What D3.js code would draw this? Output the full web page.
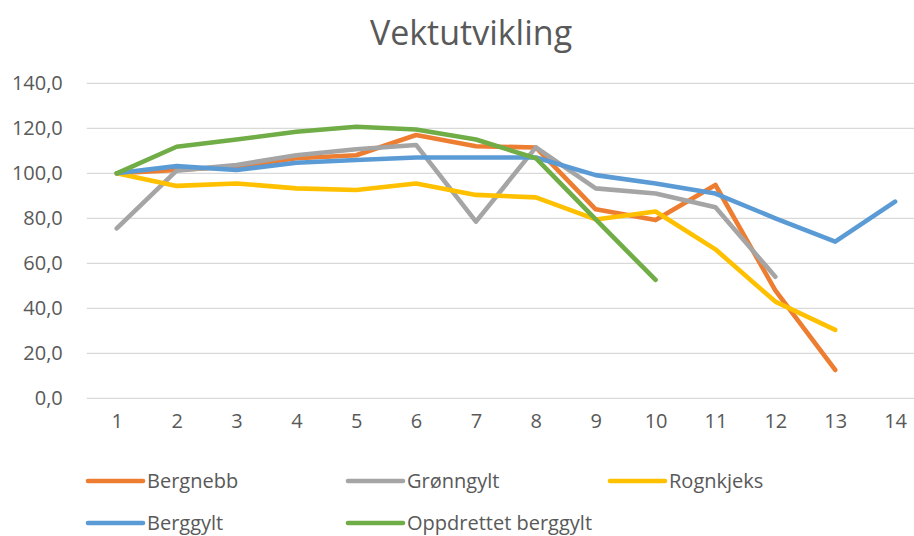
<!DOCTYPE html>
<html>
<head>
<meta charset="utf-8">
<script src="https://cdn.jsdelivr.net/npm/d3@7/dist/d3.min.js"></script>
<style>
  html, body { margin: 0; padding: 0; background: #fff; }
  svg { display: block; font-family: "Open Sans", "Noto Sans", sans-serif; }
</style>
</head>
<body>
<svg id="chart" width="914" height="536"></svg>
<script>
// Weight development per period, indexed to 100 at start
const periods = [1, 2, 3, 4, 5, 6, 7, 8, 9, 10, 11, 12, 13, 14];
const yTicks = [0, 20, 40, 60, 80, 100, 120, 140];

const bergnebb = [100, 101.5, 103, 106.7, 108, 117, 112, 111.5, 84, 79.2, 94.8, 48, 12.6];
const gronngylt = [75.5, 101.2, 103.7, 108, 110.7, 112.6, 78.5, 111.5, 93.3, 91, 84.9, 54];
const rognkjeks = [100, 94.4, 95.5, 93.3, 92.6, 95.5, 90.4, 89.3, 79.5, 83, 66.2, 43, 30.4];
const berggylt = [100, 103.2, 101.5, 104.7, 105.9, 107, 107, 107, 99.2, 95.5, 91, 80, 69.6, 87.4];
const oppdrettet = [100, 111.8, 115, 118.5, 120.7, 119.5, 115, 106.7, 79.5, 52.6];

const seriesNames = ["Bergnebb", "Grønngylt", "Rognkjeks", "Berggylt", "Oppdrettet berggylt"];
const seriesValues = [bergnebb, gronngylt, rognkjeks, berggylt, oppdrettet];
const seriesColors = ["#ED7D31", "#A5A5A5", "#FFC000", "#5B9BD5", "#70AD47"];

const svg = d3.select("#chart");
const textColor = "#595959";

const x = d3.scalePoint().domain(periods).range([86.8, 925]).padding(0.5);
const y = d3.scaleLinear().domain([0, 140]).range([398.3, 83.3]);

// Title
svg.append("text")
  .attr("x", 471).attr("y", 45)
  .attr("text-anchor", "middle")
  .attr("font-size", 34)
  .attr("fill", textColor)
  .text("Vektutvikling");

// Horizontal gridlines
svg.append("g")
  .selectAll("line")
  .data(yTicks)
  .join("line")
  .attr("x1", 86.8).attr("x2", 925)
  .attr("y1", d => y(d)).attr("y2", d => y(d))
  .attr("stroke", "#D9D9D9")
  .attr("stroke-width", 1.3);

// Y axis labels
const fmt = d => d3.format(".1f")(d).replace(".", ",");
const yAxis = d3.axisLeft(y).tickValues(yTicks).tickFormat(fmt).tickSize(0).tickPadding(24);
const gy = svg.append("g").attr("transform", "translate(86.8,0)").call(yAxis);
gy.select(".domain").remove();
gy.selectAll("text").attr("font-size", 20).attr("fill", textColor)
  .attr("font-family", "'Open Sans', sans-serif");

// X axis labels
const xAxis = d3.axisBottom(x).tickSize(0).tickPadding(16);
const gx = svg.append("g").attr("transform", `translate(0,${y(0)})`).call(xAxis);
gx.select(".domain").remove();
gx.selectAll("text").attr("font-size", 20).attr("fill", textColor)
  .attr("font-family", "'Open Sans', sans-serif");

// Lines
const line = d3.line()
  .x((d, i) => x(periods[i]))
  .y(d => y(d));

svg.append("g")
  .selectAll("path")
  .data(seriesValues)
  .join("path")
  .attr("d", d => line(d))
  .attr("fill", "none")
  .attr("stroke", (d, i) => seriesColors[i])
  .attr("stroke-width", 4.6)
  .attr("stroke-linejoin", "round")
  .attr("stroke-linecap", "round");

// Legend
const legendPos = [
  [88, 481], [348, 481], [610, 481],
  [88, 523], [348, 523]
];
const lg = svg.append("g")
  .selectAll("g")
  .data(seriesNames)
  .join("g")
  .attr("transform", (d, i) => `translate(${legendPos[i][0]},${legendPos[i][1]})`);
lg.append("line")
  .attr("x1", 0).attr("x2", 55)
  .attr("y1", 0).attr("y2", 0)
  .attr("stroke", (d, i) => seriesColors[i])
  .attr("stroke-width", 4.6)
  .attr("stroke-linecap", "round");
lg.append("text")
  .attr("x", 59).attr("y", 7)
  .attr("font-size", 20)
  .attr("fill", textColor)
  .text(d => d);
</script>
</body>
</html>
